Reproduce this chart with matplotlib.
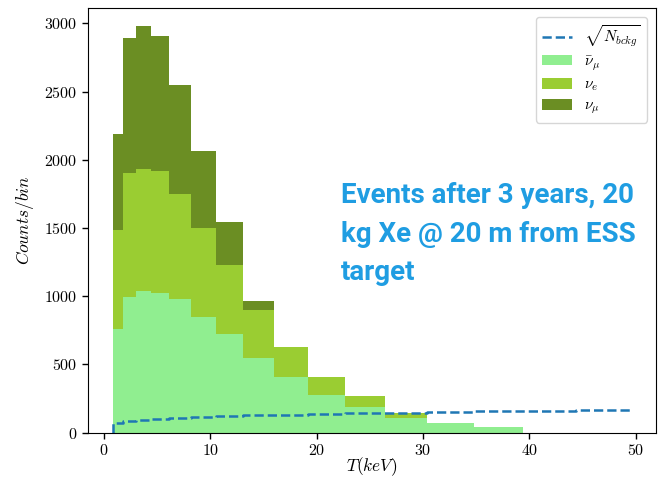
import matplotlib
matplotlib.use('Agg')
import numpy as np
import matplotlib.pyplot as plt
from matplotlib.ticker import FuncFormatter

plt.rcParams['mathtext.fontset'] = 'cm'

# bin edges (keV)
edges = [0.88, 1.82, 3.0, 4.39, 6.14, 8.15, 10.5, 13.1, 16.0, 19.2,
         22.65, 26.4, 30.4, 34.8, 39.4, 44.4, 49.6]
# stacked components, counts per bin
nubar_mu = [762, 997, 1038, 1026, 982, 850, 720, 547, 405, 273, 188, 105, 68, 37, 0, 0]
nu_e = [721, 909, 897, 894, 770, 650, 508, 352, 225, 135, 80, 36, 4, 4, 0, 0]
nu_mu = [709, 986, 1045, 987, 794, 567, 316, 68, 0, 0, 0, 0, 0, 0, 0, 0]
# sqrt of background counts per bin
sqrt_bckg = [72, 87, 95, 102, 108, 114, 120, 125, 130, 135, 140, 146, 151, 156, 161, 166]

edges = np.array(edges)
widths = np.diff(edges)
left = edges[:-1]

fig = plt.figure(figsize=(6.64, 4.79), dpi=100)
ax = fig.add_axes([0.132, 0.097, 0.856, 0.887])

b1 = np.array(nubar_mu)
b2 = b1 + np.array(nu_e)
ax.bar(left, nubar_mu, width=widths, align='edge', color='lightgreen', linewidth=0,
       label=r'$\bar{\nu}_\mu$')
ax.bar(left, nu_e, width=widths, bottom=b1, align='edge', color='yellowgreen', linewidth=0,
       label=r'$\nu_e$')
ax.bar(left, nu_mu, width=widths, bottom=b2, align='edge', color='olivedrab', linewidth=0,
       label=r'$\nu_\mu$')

# step line for the background, starting from zero at the first edge
xs = np.concatenate([[edges[0]], edges])
ys = np.concatenate([[0], sqrt_bckg, [sqrt_bckg[-1]]])
ax.step(xs, ys, where='post', ls='--', color='tab:blue', lw=1.8,
        label=r'$\sqrt{N_{bckg}}$')

ax.set_xlim(-1.55, 51.9)
ax.set_ylim(0, 3115)
ax.set_xticks([0, 10, 20, 30, 40, 50])
ax.set_yticks([0, 500, 1000, 1500, 2000, 2500, 3000])
fmt = FuncFormatter(lambda v, p: '$%d$' % v)
ax.xaxis.set_major_formatter(fmt)
ax.yaxis.set_major_formatter(fmt)
ax.tick_params(labelsize=11.5, length=4, width=1)
ax.set_xlabel(r'$T(keV)$', fontsize=12.5, labelpad=-2)
ax.set_ylabel(r'$Counts/bin$', fontsize=12.5, labelpad=6)

ax.legend(loc='upper right', fontsize=11, labelspacing=0.3, handlelength=2.0,
          borderaxespad=0.6)

fig.text(0.514, 0.62, 'Events after 3 years, 20\nkg Xe @ 20 m from ESS\ntarget',
         family='Roboto', weight='bold', color='#1f9de2', fontsize=20,
         va='top', ha='left', linespacing=1.55)

plt.savefig('out.png', dpi=100)
